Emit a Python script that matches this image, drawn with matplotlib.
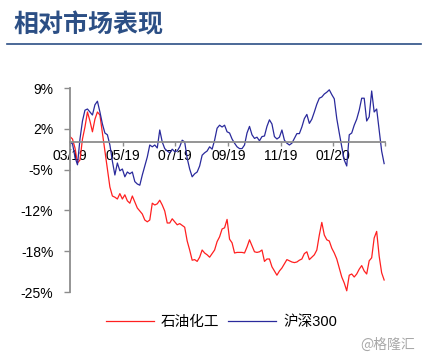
import numpy as np
import pandas as pd
import matplotlib
matplotlib.use('Agg')
import matplotlib.pyplot as plt

plt.rcParams['font.family'] = ['Liberation Sans', 'Noto Sans CJK SC']

# 相对收益 (%)，2019-03 至 2020-02，约每 3 个日历日一个点
petro = [0.9, 0.5, -1.0, -3.5, -3.0, 0.5, 2.5, 5.0, 3.5, 1.7,
         3.8, 5.0, 4.5, 1.5, -1.5, -4.5, -7.5, -9.0, -9.2, -9.5,
         -8.6, -9.5, -8.8, -9.8, -10.2, -9.0, -10.0, -11.0, -11.5, -12.0,
         -13.0, -13.3, -13.0, -10.2, -10.5, -10.3, -9.7, -10.5, -11.5, -13.5,
         -13.5, -12.8, -13.3, -13.8, -13.6, -13.9, -14.2, -16.5, -18.0, -19.7,
         -19.6, -19.9, -19.2, -18.0, -18.5, -18.8, -19.2, -18.6, -18.0, -16.6,
         -15.8, -14.5, -14.3, -12.9, -16.2, -16.8, -18.5, -18.4, -18.4, -18.4,
         -18.5, -17.5, -16.3, -17.3, -18.3, -18.4, -18.3, -18.0, -19.9, -19.5,
         -19.5, -20.8, -21.5, -22.2, -21.5, -21.0, -20.3, -19.6, -19.8, -20.0,
         -20.1, -20.0, -19.7, -19.5, -18.6, -18.3, -19.6, -19.2, -18.8, -18.0,
         -15.5, -13.4, -15.5, -16.3, -16.5, -17.7, -18.5, -19.5, -21.0, -22.5,
         -23.5, -24.8, -22.2, -22.0, -22.5, -22.0, -21.2, -20.6, -21.5, -22.0,
         -19.8, -19.3, -16.0, -14.9, -19.0, -21.8, -23.0]

hs300 = [0.0, -0.3, -2.5, -3.8, 0.5, 3.5, 5.3, 5.5, 5.0, 4.5,
         6.2, 6.8, 5.0, 3.0, 1.5, 1.2, -0.5, -3.2, -5.5, -3.5,
         -4.8, -4.5, -5.8, -5.0, -5.3, -5.0, -6.6, -7.0, -7.2, -5.5,
         -4.0, -2.5, -0.5, -0.8, -0.5, -1.0, 2.0, 0.0, -1.1, -1.5,
         -1.8, -1.2, -1.6, -1.5, -0.8, 0.3, 0.0, -2.7, -4.5, -5.8,
         -5.3, -5.0, -4.0, -2.2, -1.8, -1.5, -0.8, -1.2, 0.3, 2.3,
         2.8, 2.5, 2.8, 1.7, 1.5, 0.5, -0.2, -0.8, -1.1, -1.1,
         -0.5, 1.5, 2.6, 1.2, 0.6, 0.8, 0.2, 0.9, 1.0, 2.6,
         3.7, 3.0, 0.9, 0.5, 0.8, 2.0, 0.3, -0.2, -0.5, -0.2,
         0.6, 1.4, 1.4, 2.5, 3.9, 4.6, 3.1, 3.8, 5.0, 6.3,
         7.3, 7.5, 8.0, 8.3, 8.7, 7.9, 7.2, 3.9, 1.5, -0.8,
         -3.0, -4.0, 1.2, 1.5, 2.8, 3.8, 5.3, 7.3, 7.3, 3.5,
         4.2, 8.5, 5.0, 5.5, 2.0, -1.5, -3.6]

yticks = [9, 2.2, -4.6, -11.4, -18.2, -25]
ytick_labels = ['9%', '2%', '-5%', '-12%', '-18%', '-25%']
xtick_dates = ['2019-03-01', '2019-05-01', '2019-07-01', '2019-09-01',
               '2019-11-01', '2020-01-01', '2020-03-01']
xtick_labels = ['03/19', '05/19', '07/19', '09/19', '11/19', '01/20', '']

dates = pd.date_range('2019-03-01', '2020-02-29', periods=len(petro))

fig = plt.figure(figsize=(4.22, 3.58), dpi=100)
ax = fig.add_axes([70 / 422, 1 - 292 / 358, 315 / 422, 204 / 358])

ax.plot(dates, petro, color='#FF2020', lw=0.9, label='石油化工')
ax.plot(dates, hs300, color='#2A2A9C', lw=0.9, label='沪深300')

ax.set_ylim(-25, 9)
ax.set_xlim(pd.Timestamp('2019-03-01'), pd.Timestamp('2020-03-01'))
ax.set_yticks(yticks)
ax.set_yticklabels(ytick_labels, fontsize=10)
ax.set_xticks(pd.to_datetime(xtick_dates))
ax.set_xticklabels(xtick_labels, fontsize=10)

gray = '#8C8C8C'
for s in ['top', 'right']:
    ax.spines[s].set_visible(False)
ax.spines['left'].set_color(gray)
ax.spines['left'].set_linewidth(1.3)
ax.spines['bottom'].set_position(('data', 0))
ax.spines['bottom'].set_color(gray)
ax.spines['bottom'].set_linewidth(1.3)
ax.tick_params(axis='y', colors=gray, labelcolor='black', length=4, width=1, pad=8)
ax.tick_params(axis='x', colors=gray, labelcolor='black', length=3, width=1, pad=2)

fig.legend(loc='center', bbox_to_anchor=(0.525, 0.10), ncol=2, frameon=False,
           fontsize=10.5, handlelength=3.3, columnspacing=0.6, handletextpad=0.5)

fig.text(14 / 422, 1 - 25 / 358, '相对市场表现', fontsize=18, fontweight='bold',
         color='#2C4F85', va='center', ha='left', family=['Noto Sans CJK SC'])
fig.add_artist(plt.Line2D([7 / 422, 421 / 422], [1 - 44 / 358, 1 - 44 / 358],
                          color='#2C4F85', lw=1.2))
fig.text(415 / 422, 1 - 345 / 358, '@格隆汇', fontsize=10, color='#A8A8A8',
         ha='right', va='center', family=['Noto Sans CJK SC'])

fig.savefig('out.png', dpi=100)
